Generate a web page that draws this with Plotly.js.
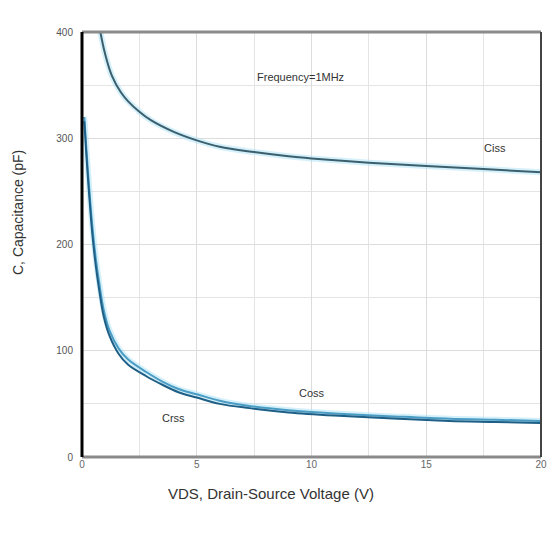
<!DOCTYPE html>
<html>
<head>
<meta charset="utf-8">
<script src="https://cdn.plot.ly/plotly-3.0.1.min.js"></script>
<style>html,body{margin:0;padding:0;background:#fff;}#chart{width:549px;height:534px;}</style>
</head>
<body>
<div id="chart"></div>
<script>
const cissVds = [0.8, 1.0, 1.3, 1.7, 2.0, 2.5, 3.0, 4.0, 5.0, 6.0, 7.5, 9.0, 10.0, 12.5, 15.0, 17.5, 20.0];
const cissPf  = [400, 380, 359, 343, 335, 325, 317, 306, 298, 292, 287, 283, 281, 277, 274, 271, 268];
const cossVds = [0.1, 0.2, 0.3, 0.45, 0.6, 0.75, 0.95, 1.2, 1.6, 2.0, 2.8, 3.5, 4.2, 5.0, 6.0, 7.3, 9.0, 11.0, 13.8, 16.0, 18.0, 20.0];
const cossPf  = [320, 287, 257, 217, 187, 164, 138, 119, 102, 92, 80, 71, 64, 59, 53, 48, 44, 41, 38, 36, 35, 34];
const crssVds = [0.1, 0.2, 0.3, 0.45, 0.6, 0.75, 0.95, 1.2, 1.6, 2.0, 2.8, 3.5, 4.2, 5.0, 6.0, 7.3, 9.0, 11.0, 13.8, 16.0, 18.0, 20.0];
const crssPf  = [316, 281, 250, 210, 180, 157, 132, 114, 97, 87, 76, 68, 61, 56, 50, 46, 42, 39, 36, 34, 33, 32];
const xTicks = [0, 5, 10, 15, 20];
const yTicks = [0, 100, 200, 300, 400];
const labelText = ["Frequency=1MHz", "Ciss", "Coss", "Crss"];
const labelX = [9.5, 18.0, 10.0, 4.0];
const labelY = [358, 291, 60, 37];

const glow = {color: 'rgba(170,225,245,0.5)', width: 6, shape: 'spline'};
const traces = [
  {x: cissVds, y: cissPf, mode: 'lines', line: glow, hoverinfo: 'skip'},
  {x: cossVds, y: cossPf, mode: 'lines', line: glow, hoverinfo: 'skip'},
  {x: cissVds, y: cissPf, mode: 'lines', name: 'Ciss', line: {color: '#3c5f6e', width: 2, shape: 'spline'}},
  {x: cossVds, y: cossPf, mode: 'lines', name: 'Coss', line: {color: '#4a9cc4', width: 2, shape: 'spline'}},
  {x: crssVds, y: crssPf, mode: 'lines', name: 'Crss', line: {color: '#1f5f86', width: 2, shape: 'spline'}}
];

const annotations = labelText.map((t, i) => ({
  x: labelX[i], y: labelY[i], xref: 'x', yref: 'y', text: t, showarrow: false,
  font: {family: 'Liberation Sans, Arial, sans-serif', size: 11, color: '#333'}
}));
const L = 82, R = 8, T = 32, B = 77, W = 549, H = 534;
const pw = W - L - R, ph = H - T - B;
annotations.push({
  x: (271 - L) / pw, y: (H - B - 493) / ph, xref: 'paper', yref: 'paper',
  xanchor: 'center', yanchor: 'middle',
  text: 'VDS, Drain-Source Voltage (V)', showarrow: false,
  font: {family: 'Liberation Sans, Arial, sans-serif', size: 15, color: '#333'}
});
annotations.push({
  x: (18 - L) / pw, y: (H - B - 213) / ph, xref: 'paper', yref: 'paper',
  xanchor: 'center', yanchor: 'middle',
  text: 'C, Capacitance (pF)', showarrow: false, textangle: -90,
  font: {family: 'Liberation Sans, Arial, sans-serif', size: 14, color: '#333'}
});

const layout = {
  width: W, height: H,
  margin: {l: L, r: R, t: T, b: B},
  paper_bgcolor: '#fff', plot_bgcolor: '#fff',
  showlegend: false,
  font: {family: 'Liberation Sans, Arial, sans-serif', size: 10, color: '#555'},
  xaxis: {
    range: [0, 20], tickvals: xTicks, ticktext: xTicks.map(String),
    showgrid: true, gridcolor: '#dcdcdc', gridwidth: 1,
    minor: {dtick: 2.5, showgrid: true, gridcolor: '#e4e4e4', gridwidth: 1},
    zeroline: false, showline: false, ticks: '', ticklen: 0,
    tickfont: {size: 10, color: '#666'}
  },
  yaxis: {
    range: [0, 400], tickvals: yTicks, ticktext: yTicks.map(String),
    showgrid: true, gridcolor: '#dcdcdc', gridwidth: 1,
    minor: {dtick: 50, showgrid: true, gridcolor: '#e4e4e4', gridwidth: 1},
    zeroline: false, showline: false, ticks: 'outside', ticklen: 6, tickcolor: '#fff',
    tickfont: {size: 10, color: '#555'}
  },
  shapes: [
    {type: 'line', xref: 'paper', yref: 'paper', x0: 0, x1: 1, y0: 1, y1: 1, line: {color: '#8a8a8a', width: 3}},
    {type: 'line', xref: 'paper', yref: 'paper', x0: 0, x1: 1, y0: 0, y1: 0, line: {color: '#8a8a8a', width: 3}},
    {type: 'line', xref: 'paper', yref: 'paper', x0: 1, x1: 1, y0: 0, y1: 1, line: {color: '#444', width: 2}},
    {type: 'line', xref: 'paper', yref: 'paper', x0: 0, x1: 0, y0: 0, y1: 1, line: {color: '#000', width: 3}}
  ],
  annotations: annotations
};

Plotly.newPlot('chart', traces, layout, {displayModeBar: false, staticPlot: true});
</script>
</body>
</html>
